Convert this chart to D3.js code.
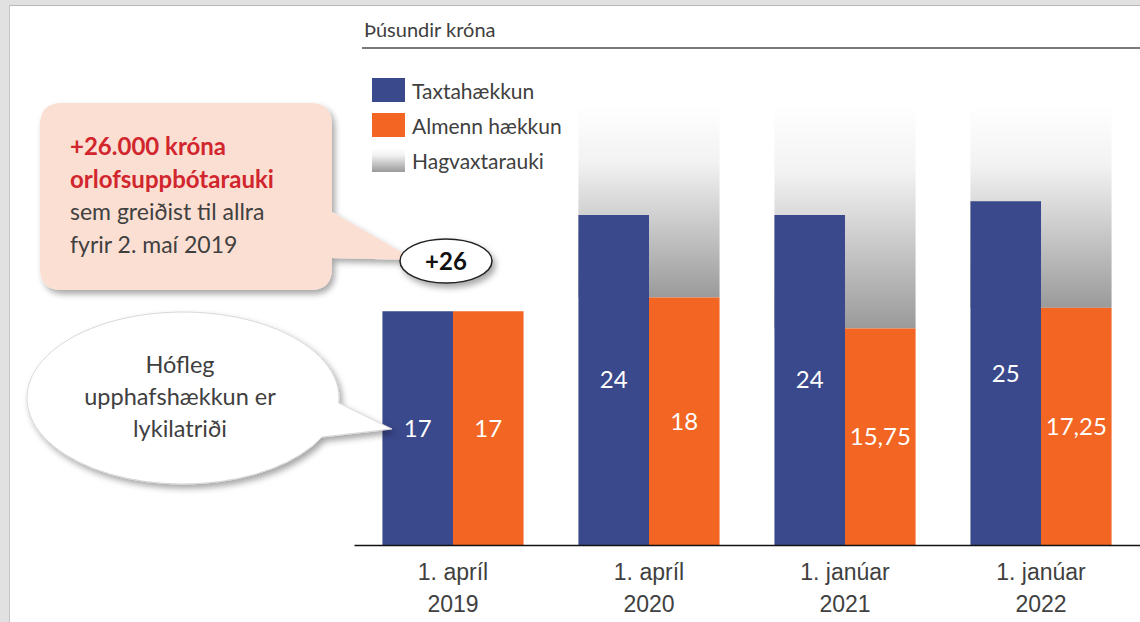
<!DOCTYPE html>
<html>
<head>
<meta charset="utf-8">
<script src="https://cdn.jsdelivr.net/npm/d3@7"></script>
<style>
  body { margin: 0; background: #e1e1e1; }
  svg { display: block; font-family: Lato, "Open Sans", sans-serif; }
</style>
</head>
<body>
<script>
// gögn
var periods = ["1. apríl 2019", "1. apríl 2020", "1. janúar 2021", "1. janúar 2022"];
var taxtahaekkun = [17, 24, 24, 25];
var almennHaekkun = [17, 18, 15.75, 17.25];
var hagvaxtarauki = [0, 32, 32, 32]; // efri brún gráa svæðisins
var seriesNames = ["Taxtahækkun", "Almenn hækkun", "Hagvaxtarauki"];
var yMax = 32;

var w = 1140;
var h = 622;
var blue = "#3a488c";
var orange = "#f26522";
var textGray = "#404040";

var svg = d3.select("body").append("svg");
svg.attr("width", w).attr("height", h);

var defs = svg.append("defs");
var grad = defs.append("linearGradient").attr("id", "grayGrad")
  .attr("x1", 0).attr("y1", 0).attr("x2", 0).attr("y2", 1);
grad.append("stop").attr("offset", "0%").attr("stop-color", "#ffffff");
grad.append("stop").attr("offset", "30%").attr("stop-color", "#f2f2f2");
grad.append("stop").attr("offset", "100%").attr("stop-color", "#9a9a9a");

var shadow = defs.append("filter").attr("id", "shadow")
  .attr("x", "-20%").attr("y", "-20%").attr("width", "150%").attr("height", "150%");
shadow.append("feDropShadow").attr("dx", 3).attr("dy", 4)
  .attr("stdDeviation", 3).attr("flood-color", "#000").attr("flood-opacity", 0.35);

// hvítur bakgrunnur
svg.append("rect").attr("x", 10).attr("y", 6).attr("width", w - 10).attr("height", h - 6)
  .attr("fill", "#fff");
svg.append("line").attr("x1", 9).attr("x2", w).attr("y1", 5.5).attr("y2", 5.5)
  .attr("stroke", "#b8b8b8").attr("stroke-width", 1);
svg.append("line").attr("x1", 9.5).attr("x2", 9.5).attr("y1", 5).attr("y2", h)
  .attr("stroke", "#c4c4c4").attr("stroke-width", 1);

//escalas
var x0 = d3.scaleBand()
  .domain(periods)
  .range([354, 1140])
  .paddingInner(0.28)
  .paddingOuter(0.145);

var x1 = d3.scaleBand()
  .domain([0, 1])
  .range([0, x0.bandwidth()]);

var y = d3.scaleLinear()
  .domain([0, yMax])
  .range([545, 105]);

// titill
svg.append("text").attr("x", 364).attr("y", 37)
  .attr("font-size", "20px").attr("fill", textGray)
  .text("Þúsundir króna");
svg.append("line").attr("x1", 362).attr("x2", w).attr("y1", 48).attr("y2", 48)
  .attr("stroke", "#7a7a7a").attr("stroke-width", 2);

// grá svæði
var rows = periods.map(function(p, i) {
  return { period: p, a: taxtahaekkun[i], b: almennHaekkun[i], g: hagvaxtarauki[i] };
});

svg.selectAll("rect.hag")
  .data(rows.filter(function(d) { return d.g > 0; }))
  .enter()
  .append("rect")
  .attr("class", "hag")
  .attr("x", function(d) { return x0(d.period); })
  .attr("width", x0.bandwidth())
  .attr("y", function(d) { return y(d.g); })
  .attr("height", function(d) { return y(d.b) - y(d.g); })
  .attr("fill", "url(#grayGrad)");

var groups = svg.selectAll("g.grp")
  .data(rows)
  .enter()
  .append("g")
  .attr("class", "grp")
  .attr("transform", function(d) { return "translate(" + x0(d.period) + ",0)"; });

groups.selectAll("rect.bar")
  .data(function(d) { return [d.a, d.b]; })
  .enter()
  .append("rect")
  .attr("class", "bar")
  .attr("x", function(d, i) { return x1(i); })
  .attr("width", x1.bandwidth())
  .attr("y", function(d) { return y(d); })
  .attr("height", function(d) { return y(0) - y(d); })
  .attr("fill", function(d, i) { return i === 0 ? blue : orange; });

groups.selectAll("text.val")
  .data(function(d) { return [d.a, d.b]; })
  .enter()
  .append("text")
  .attr("class", "val")
  .attr("x", function(d, i) { return x1(i) + x1.bandwidth() / 2; })
  .attr("y", function(d) { return (y(d) + y(0)) / 2; })
  .attr("dy", "0.35em")
  .attr("text-anchor", "middle")
  .attr("font-size", "24px")
  .attr("fill", "#fff")
  .text(function(d) { return String(d).replace(".", ","); });

// x ás
var xAxis = d3.axisBottom(x0).tickSize(0).tickPadding(0).tickSizeOuter(0);
var axisG = svg.append("g").attr("transform", "translate(0," + y(0) + ")").call(xAxis);
axisG.select(".domain").attr("stroke", "#111").attr("stroke-width", 1.5);
axisG.selectAll(".tick text").remove();
axisG.selectAll(".tick").each(function(d) {
  var k = d.lastIndexOf(" ");
  var t = d3.select(this).append("text")
    .attr("text-anchor", "middle")
    .attr("fill", textGray)
    .attr("font-size", "23px");
  t.append("tspan").attr("x", x0.bandwidth() / 2).attr("y", 35).text(d.slice(0, k));
  t.append("tspan").attr("x", x0.bandwidth() / 2).attr("y", 67).text(d.slice(k + 1));
});
axisG.selectAll(".tick").attr("transform", function(d) { return "translate(" + x0(d) + ",0)"; });

// skýring
var legend = svg.append("g").attr("transform", "translate(372,78)");
var lg = legend.selectAll("g")
  .data(seriesNames)
  .enter()
  .append("g")
  .attr("transform", function(d, i) { return "translate(0," + (i * 35) + ")"; });
lg.append("rect")
  .attr("width", 33).attr("height", 24)
  .attr("fill", function(d, i) { return i === 0 ? blue : (i === 1 ? orange : "url(#grayGrad)"); });
lg.append("text")
  .attr("x", 40).attr("y", 21)
  .attr("font-size", "21px").attr("fill", textGray)
  .text(function(d) { return d; });

// bleik skýringarblaðra
svg.append("path")
  .attr("d", "M62,103 H310 Q332,103 332,125 V212 L415,260 L332,258 V268 Q332,290 310,290 H62 Q40,290 40,268 V125 Q40,103 62,103 Z")
  .attr("fill", "#fcdfd3")
  .attr("filter", "url(#shadow)");

var pinkLines = [
  { t: "+26.000 króna", bold: true },
  { t: "orlofsuppbótarauki", bold: true },
  { t: "sem greiðist til allra", bold: false },
  { t: "fyrir 2. maí 2019", bold: false }
];
svg.append("g").selectAll("text")
  .data(pinkLines)
  .enter()
  .append("text")
  .attr("x", 70)
  .attr("y", function(d, i) { return 155 + i * 32.5; })
  .attr("font-size", function(d) { return d.bold ? "24px" : "23px"; })
  .attr("font-weight", function(d) { return d.bold ? "bold" : "normal"; })
  .attr("fill", function(d) { return d.bold ? "#d1262d" : textGray; })
  .text(function(d) { return d.t; });

// +26
svg.append("ellipse")
  .attr("cx", 446).attr("cy", 261).attr("rx", 46).attr("ry", 22)
  .attr("fill", "#fff").attr("stroke", "#222").attr("stroke-width", 1.5)
  .attr("filter", "url(#shadow)");
svg.append("text").attr("x", 446).attr("y", 261).attr("dy", "0.36em")
  .attr("text-anchor", "middle").attr("font-size", "24px").attr("font-weight", "bold")
  .attr("fill", "#111").text("+26");

// hvít talblaðra
svg.append("path")
  .attr("d", "M338.7,403 L392,429 L322,437 A156 86 0 1 1 338.7,403 Z")
  .attr("fill", "#fff")
  .attr("stroke", "#d8d8d8").attr("stroke-width", 1)
  .attr("filter", "url(#shadow)");

var bubbleLines = ["Hófleg", "upphafshækkun er", "lykilatriði"];
svg.append("g").selectAll("text")
  .data(bubbleLines)
  .enter()
  .append("text")
  .attr("x", 180)
  .attr("y", function(d, i) { return 373 + i * 32; })
  .attr("text-anchor", "middle")
  .attr("font-size", "23.5px")
  .attr("fill", textGray)
  .text(function(d) { return d; });
</script>
</body>
</html>
